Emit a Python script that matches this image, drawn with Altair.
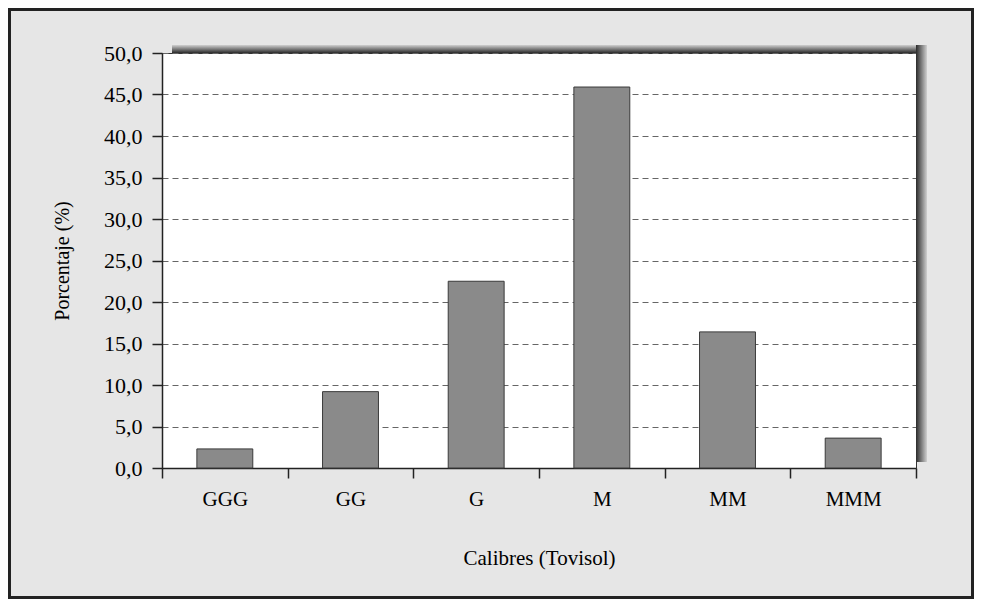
import altair as alt
import pandas as pd

categories = ["GGG", "GG", "G", "M", "MM", "MMM"]
values = [2.3, 9.2, 22.5, 45.9, 16.4, 3.6]
y_ticks = [0, 5, 10, 15, 20, 25, 30, 35, 40, 45, 50]

W, H = 754, 415
PAD = {"left": 154, "top": 45, "right": 58, "bottom": 131}
FONT = "Liberation Serif"

df = pd.DataFrame({"calibre": categories, "pct": values})
one = alt.Data(values=[{"k": 1}])

bars = alt.Chart(df).mark_bar(
    width=alt.RelativeBandSize(0.445), fill="#8a8a8a", stroke="#3a3a3a", strokeWidth=1
).encode(
    x=alt.X(
        "calibre:N", sort=categories,
        scale=alt.Scale(paddingInner=0, paddingOuter=0),
        axis=alt.Axis(
            title="Calibres (Tovisol)", labelAngle=0, tickBand="extent", grid=False,
            labelFont=FONT, labelFontSize=21, labelColor="#000", labelPadding=10,
            tickSize=10, tickColor="#222", tickWidth=1.5,
            domainColor="#222", domainWidth=1.5,
            titleFont=FONT, titleFontSize=21, titleFontWeight="normal", titleColor="#000",
            titleY=90, titleBaseline="middle",
        ),
    ),
    y=alt.Y(
        "pct:Q",
        scale=alt.Scale(domain=[0, 50], nice=False),
        axis=alt.Axis(
            title="Porcentaje (%)", values=y_ticks,
            labelExpr="replace(format(datum.value, '.1f'), '.', ',')",
            grid=True, gridDash=[6, 4], gridColor="#666", gridWidth=1,
            labelFont=FONT, labelFontSize=22, labelColor="#000", labelPadding=10,
            tickSize=10, tickColor="#222", tickWidth=1.5,
            domainColor="#222", domainWidth=1.5,
            titleFont=FONT, titleFontSize=20, titleFontWeight="normal", titleColor="#000",
            titleX=-100, titleY=H / 2, titleBaseline="middle", titleAngle=270,
        ),
    ),
)

grad_top = alt.Gradient(
    gradient="linear", x1=0, x2=0, y1=0, y2=1,
    stops=[alt.GradientStop(color="#d0d0d0", offset=0), alt.GradientStop(color="#2a2a2a", offset=1)],
)
grad_right = alt.Gradient(
    gradient="linear", x1=0, x2=1, y1=0, y2=0,
    stops=[alt.GradientStop(color="#2a2a2a", offset=0), alt.GradientStop(color="#d0d0d0", offset=1)],
)

shadow_top = alt.Chart(one).mark_rect(fill=grad_top).encode(
    x=alt.value(10), x2=alt.value(W + 10), y=alt.value(-8), y2=alt.value(0)
)
shadow_right = alt.Chart(one).mark_rect(fill=grad_right).encode(
    x=alt.value(W), x2=alt.value(W + 11), y=alt.value(-8), y2=alt.value(H - 6)
)
frame = alt.Chart(one).mark_rect(fillOpacity=0, stroke="#222", strokeWidth=3).encode(
    x=alt.value(-PAD["left"] + 1.5), x2=alt.value(W + PAD["right"] - 1.5),
    y=alt.value(-PAD["top"] + 1.5), y2=alt.value(H + PAD["bottom"] - 1.5),
)

chart = alt.layer(frame, shadow_top, shadow_right, bars).properties(
    width=W, height=H, padding=PAD, autosize="none", background="#e6e6e6"
).configure_view(fill="white", stroke="#333", strokeWidth=1)

chart.save("out.html", embed_options={"renderer": "svg", "actions": False})
